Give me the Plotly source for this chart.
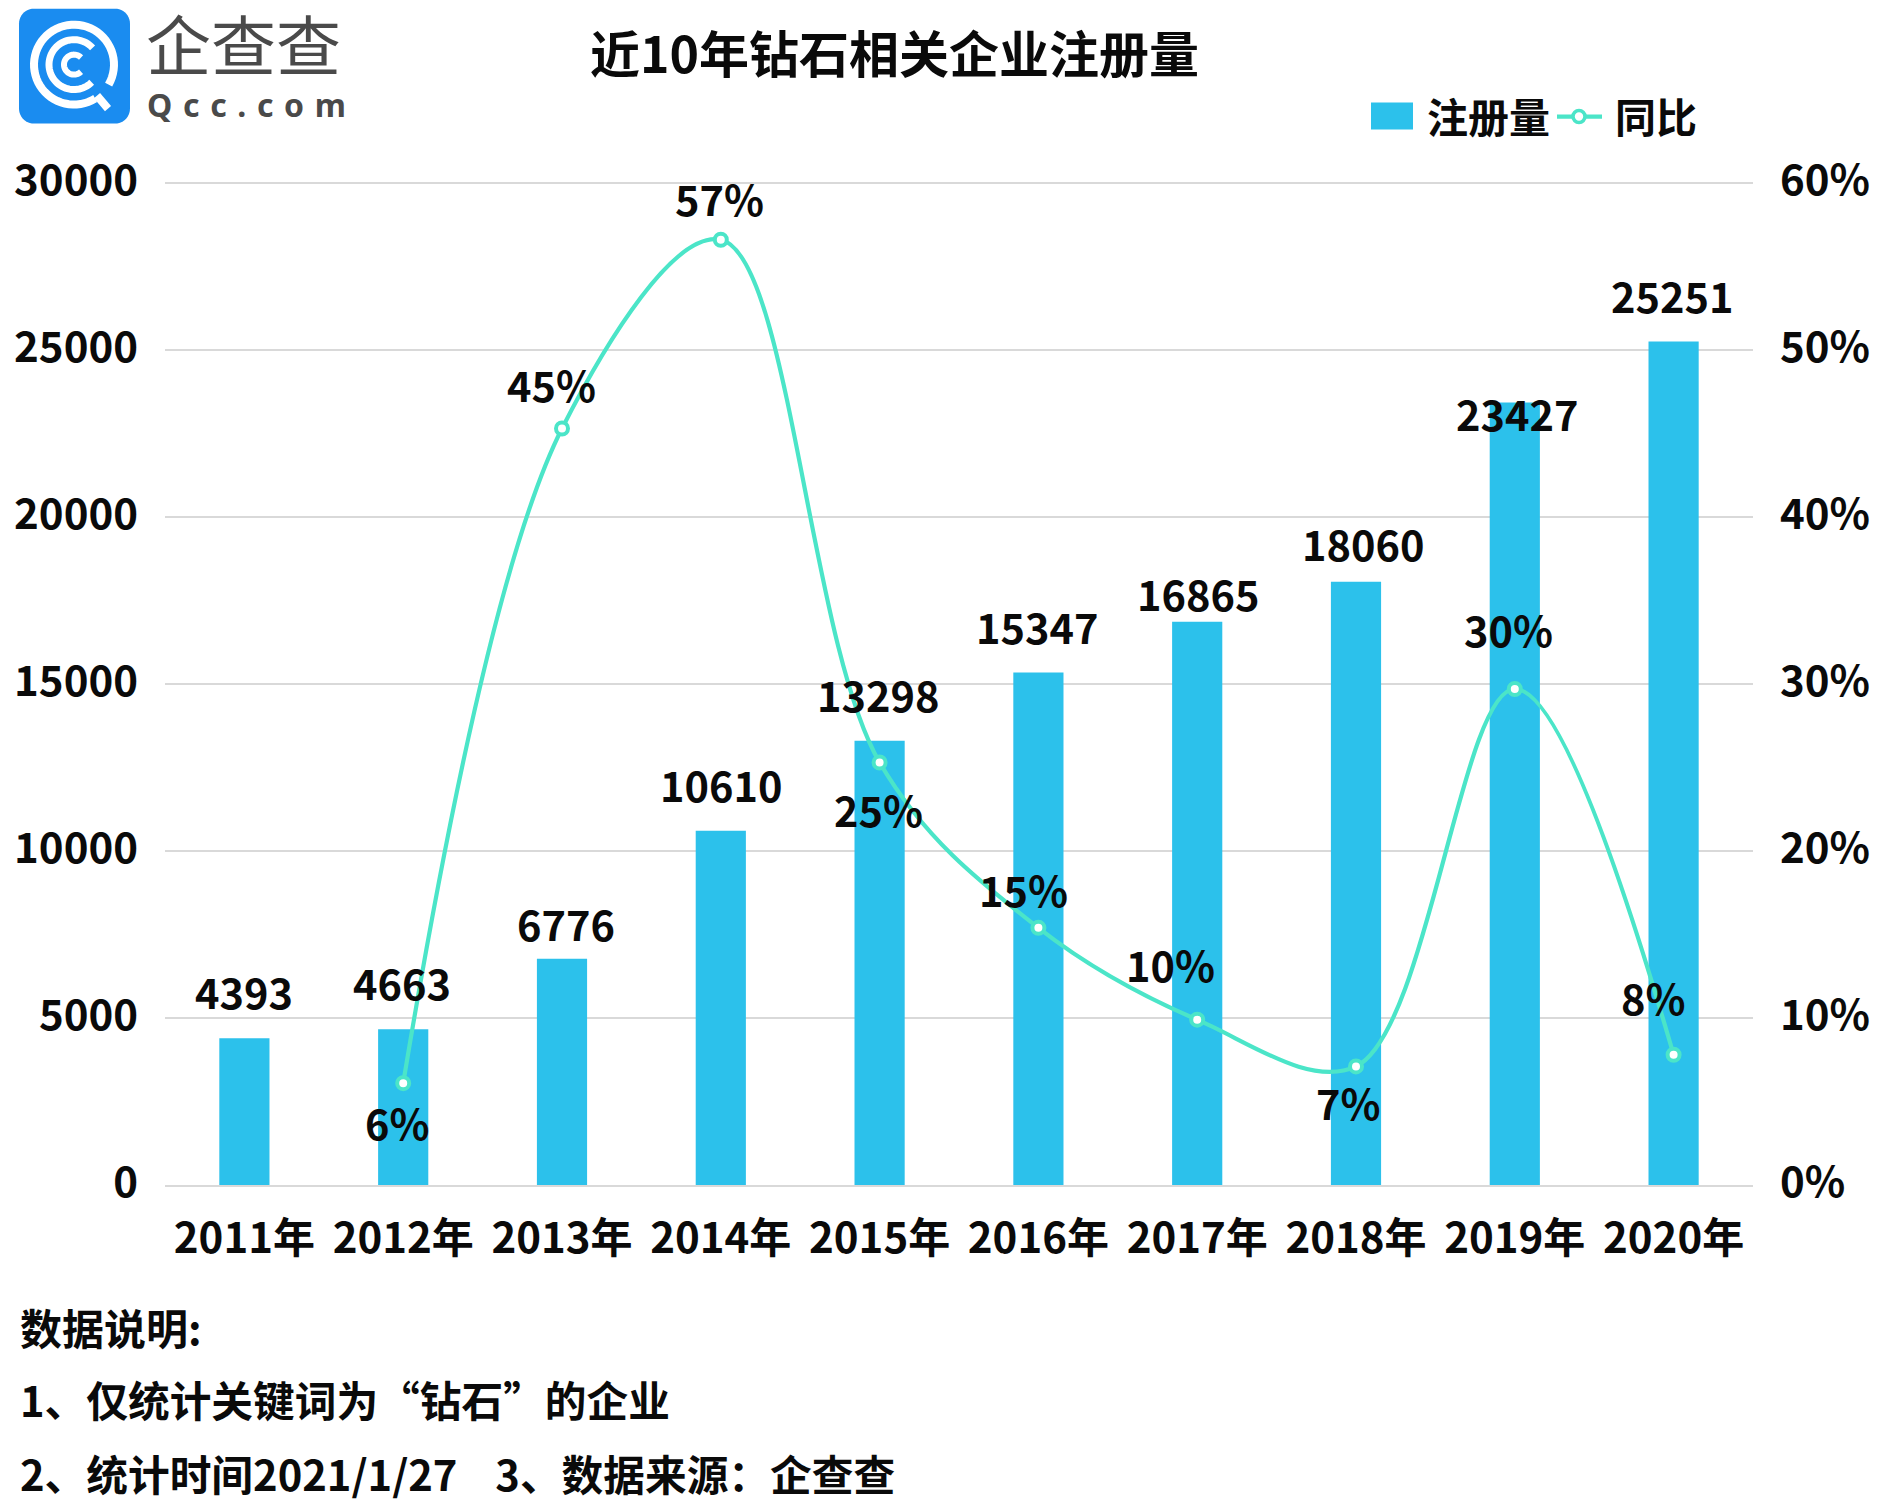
import numpy as np
import plotly.graph_objects as go

years = ["2011年", "2012年", "2013年", "2014年", "2015年", "2016年", "2017年", "2018年", "2019年", "2020年"]
registrations = [4393, 4663, 6776, 10610, 13298, 15347, 16865, 18060, 23427, 25251]
yoy_pct = [None, 6.1, 45.3, 56.6, 25.3, 15.4, 9.9, 7.1, 29.7, 7.8]
left_ticks = [0, 5000, 10000, 15000, 20000, 25000, 30000]
right_ticks = [0, 10, 20, 30, 40, 50, 60]
title_text = "近10年钻石相关企业注册量"
notes = ["数据说明:", "1、仅统计关键词为“钻石”的企业", "2、统计时间2021/1/27\u00a0\u00a0\u00a0\u00a03、数据来源\uff1a企查查"]

W, H = 1883, 1508
PAGE = 8  # default body margin of the page
L, R, T, B = 165, 1753, 180.5, 1185.5
FONT = "Noto Sans CJK SC"
BLUE = "#2CC1EB"
TEAL = "#4BE5C8"
GRID = "#D9D9D9"
BLACK = "#0A0A0A"
S = 1.2017

# label offsets from the mark, in px (x right, y up)
bar_dx = [0, -1, 3, 0, -1, -1, 1, 6, 2, -1]
bar_dy = [39, 39, 30, 39, 39, 39, 24, 32, -9, 39]
line_dx = [0, -5, -9, -1, -1, -12, -22, -7, -5, -17]
line_dy = [0, -32, 37, 35, -39, 32, 46, -30, 50, 48]


def px(x):
    return (x - L) / (R - L)


def py(y):
    return (B - y) / (B - T)


def pts(seq, close=False):
    d = "M" + " L".join(f"{px(x):.5f},{py(y):.5f}" for x, y in seq)
    return d + (" Z" if close else "")


def arc(cx, cy, r, a0, a1, n=60):
    t = np.radians(np.linspace(a0, a1, n))
    return [(cx + r * np.cos(a), cy + r * np.sin(a)) for a in t]


def rrect(x0, y0, x1, y1, r):
    seq = arc(x1 - r, y0 + r, r, -90, 0, 12) + arc(x1 - r, y1 - r, r, 0, 90, 12)
    seq += arc(x0 + r, y1 - r, r, 90, 180, 12) + arc(x0 + r, y0 + r, r, 180, 270, 12)
    return pts(seq, True)


fig = go.Figure()
fig.add_trace(go.Bar(x=years, y=registrations, name="注册量", marker=dict(color=BLUE, line_width=0),
                     width=0.316, yaxis="y", showlegend=False))
fig.add_trace(go.Scatter(x=years, y=yoy_pct, name="同比", yaxis="y2", mode="lines+markers", showlegend=False,
                         line=dict(color=TEAL, width=4.2, shape="spline", smoothing=1.0),
                         marker=dict(size=12, color="white", line=dict(color=TEAL, width=4)),
                         connectgaps=False))

ann = []
for i, v in enumerate(registrations):
    ann.append(dict(x=years[i], y=v, xref="x", yref="y", text=str(v), showarrow=False, xanchor="center",
                    yanchor="middle", xshift=bar_dx[i] * S, yshift=bar_dy[i] * S,
                    font=dict(size=41.5, family=FONT, color=BLACK, weight=700)))
for i, v in enumerate(yoy_pct):
    if v is None:
        continue
    ann.append(dict(x=years[i], y=v, xref="x", yref="y2", text=f"{round(v)}%", showarrow=False, xanchor="center",
                    yanchor="middle", xshift=line_dx[i] * S, yshift=line_dy[i] * S,
                    font=dict(size=41.5, family=FONT, color=BLACK, weight=700)))


def note(x, y, text, size, anchor="left", weight=700, color=BLACK, family=FONT):
    ann.append(dict(x=px(x), y=py(y), xref="paper", yref="paper", text=text, showarrow=False, xanchor=anchor,
                    yanchor="middle", borderpad=0, borderwidth=0,
                    font=dict(size=size, family=family, color=color, weight=weight)))


note(894, 50, title_text, 50, "center")
note(20, 1327, notes[0], 42)
note(20, 1400, notes[1], 41.7)
note(20, 1474, notes[2], 41.7)
note(1427, 114, "注册量", 41, weight=700)
note(1615, 114, "同比", 41, weight=700)
note(146, 41, "企查查", 65, weight=400, color="#4A4A4A")
note(147, 104, "Q\u2004c\u2004c\u2004.\u2004c\u2004o\u2004m", 32, weight=700, color="#4A4A4A", family="Noto Sans")

shapes = [
    # legend
    dict(type="rect", xref="paper", yref="paper", x0=px(1371), x1=px(1413), y0=py(129), y1=py(102),
         fillcolor=BLUE, line_width=0),
    dict(type="line", xref="paper", yref="paper", x0=px(1557), x1=px(1602), y0=py(116), y1=py(116),
         line=dict(color=TEAL, width=4.2)),
    dict(type="circle", xref="paper", yref="paper", x0=px(1573), x1=px(1585), y0=py(122), y1=py(110),
         fillcolor="white", line=dict(color=TEAL, width=3.6)),
    # logo
    dict(type="path", xref="paper", yref="paper", path=rrect(19, 8, 130, 123, 15), fillcolor="#1A8CF0", line_width=0),
]
cx, cy = 74, 64
for r, a0, a1, w in [(40, 58, 390, 8), (25, 45, 318, 7), (10, 45, 315, 6)]:
    shapes.append(dict(type="path", xref="paper", yref="paper", path=pts(arc(cx, cy, r, a0, a1)),
                       line=dict(color="white", width=w)))
shapes.append(dict(type="path", xref="paper", yref="paper", path=pts([(97, 95), (108, 108)]),
                   line=dict(color="white", width=8)))

fig.update_layout(
    width=W - 2 * PAGE, height=H - PAGE, autosize=False,
    margin=dict(l=L - PAGE, r=W - PAGE - R, t=T - PAGE, b=H - B, pad=0, autoexpand=False),
    paper_bgcolor="white", plot_bgcolor="white", showlegend=False,
    font=dict(family=FONT, color=BLACK, size=40),
    annotations=ann, shapes=shapes,
    xaxis=dict(type="category", categoryorder="array", categoryarray=years, range=[-0.5, 9.5], showgrid=False,
               automargin=False, showline=True, linecolor=GRID, linewidth=2, ticks="", ticklabelstandoff=16,
               tickfont=dict(size=42, family=FONT, color=BLACK, weight=700)),
    yaxis=dict(range=[0, 30060], tickvals=left_ticks, ticktext=[str(t) for t in left_ticks], showgrid=True,
               automargin=False, gridcolor=GRID, gridwidth=2, zeroline=False, showline=False, ticks="",
               ticklabelstandoff=26, ticklabelshift=-3, tickfont=dict(size=42, family=FONT, color=BLACK, weight=700)),
    yaxis2=dict(range=[0, 60.12], overlaying="y", side="right", tickvals=right_ticks,
                ticktext=[f"{t}%" for t in right_ticks], showgrid=False, zeroline=False, showline=False,
                automargin=False, ticks="", ticklabelstandoff=26, ticklabelshift=-3,
                tickfont=dict(size=42, family=FONT, color=BLACK, weight=700)),
)
fig.write_html("out.html")
